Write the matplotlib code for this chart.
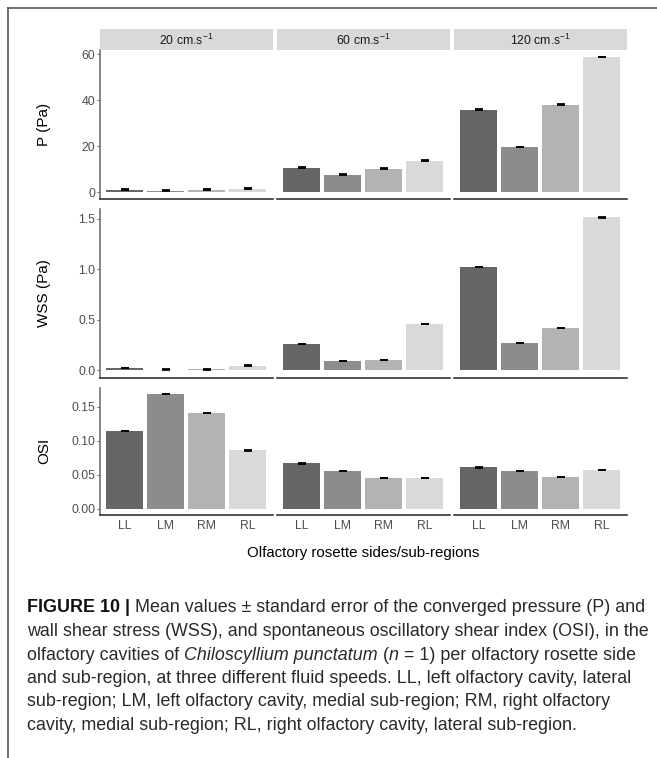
import numpy as np
import matplotlib
matplotlib.use("Agg")
from matplotlib import pyplot as plt
from matplotlib.lines import Line2D

plt.rcParams['font.family'] = ['Liberation Sans', 'DejaVu Sans']
plt.rcParams['mathtext.fontset'] = 'custom'
plt.rcParams['mathtext.rm'] = 'Liberation Sans'
plt.rcParams['mathtext.it'] = 'Liberation Sans:italic'

# data
regions = ["LL", "LM", "RM", "RL"]
speeds = [r"20 cm.s$^{-1}$", r"60 cm.s$^{-1}$", r"120 cm.s$^{-1}$"]
row_titles = ["P (Pa)", "WSS (Pa)", "OSI"]

p_mean = [[1.1, 0.7, 1.1, 1.6],
          [10.7, 7.7, 10.3, 13.8],
          [35.9, 19.8, 38.0, 58.8]]
p_se = [[0.12, 0.1, 0.15, 0.15],
        [0.2, 0.15, 0.2, 0.2],
        [0.15, 0.1, 0.2, 0.15]]
wss_mean = [[0.022, 0.008, 0.01, 0.045],
            [0.26, 0.092, 0.102, 0.457],
            [1.02, 0.27, 0.418, 1.513]]
wss_se = [[0.004, 0.002, 0.002, 0.004],
          [0.004, 0.003, 0.003, 0.004],
          [0.004, 0.004, 0.004, 0.005]]
osi_mean = [[0.1145, 0.1690, 0.1410, 0.0862],
            [0.0668, 0.0555, 0.0452, 0.0450],
            [0.0610, 0.0553, 0.0467, 0.0570]]
osi_se = [[0.0004, 0.0004, 0.0004, 0.0004],
          [0.0004, 0.0004, 0.0004, 0.0004],
          [0.0004, 0.0004, 0.0004, 0.0004]]
y_ticks = [[0, 20, 40, 60], [0.0, 0.5, 1.0, 1.5], [0.00, 0.05, 0.10, 0.15]]
y_ticklabels = [["0", "20", "40", "60"], ["0.0", "0.5", "1.0", "1.5"],
                ["0.00", "0.05", "0.10", "0.15"]]

means = [p_mean, wss_mean, osi_mean]
ses = [p_se, wss_se, osi_se]
bar_colors = ["#666666", "#8c8c8c", "#b3b3b3", "#d9d9d9"]

W, H = 657, 758
fig = plt.figure(figsize=(W / 100, H / 100), dpi=100)


def px_axes(x0, y0, x1, y1):
    # pixel box (top-left origin) -> figure axes
    return fig.add_axes([x0 / W, 1 - y1 / H, (x1 - x0) / W, (y1 - y0) / H])


col_x = [(100, 272.5), (277, 449.5), (454, 626.6)]
row_y = [(50, 199), (209, 378), (388, 514.5)]
strip_y = (29, 50)

xpos = np.arange(len(regions))
for r in range(3):
    top = max(max(m + s for m, s in zip(mm, ss)) for mm, ss in zip(means[r], ses[r]))
    for c in range(3):
        ax = px_axes(col_x[c][0], row_y[r][0], col_x[c][1], row_y[r][1])
        vals = np.array(means[r][c])
        err = np.array(ses[r][c])
        ax.bar(xpos, vals, width=0.9, color=bar_colors, zorder=2)
        ax.vlines(xpos, vals - err, vals + err, color="black", lw=1.0, zorder=3)
        ax.hlines(vals + err, xpos - 0.1, xpos + 0.1, color="black", lw=1.3, zorder=3)
        ax.hlines(vals - err, xpos - 0.1, xpos + 0.1, color="black", lw=1.3, zorder=3)
        ax.set_xlim(-0.6, 3.6)
        ax.set_ylim(-0.05 * top, 1.05 * top)
        for s in ["top", "right"]:
            ax.spines[s].set_visible(False)
        ax.spines["bottom"].set_color("#222222")
        ax.spines["bottom"].set_linewidth(1.1)
        ax.spines["left"].set_color("#666666")
        ax.spines["left"].set_linewidth(1.1)
        ax.set_yticks(y_ticks[r])
        ax.set_yticklabels(y_ticklabels[r])
        ax.tick_params(axis="y", length=2, width=0.6, color="#555555",
                       labelsize=8.8, labelcolor="#4d4d4d", pad=1.5)
        ax.set_xticks(xpos)
        if r == 2:
            ax.set_xticklabels(regions)
            ax.tick_params(axis="x", length=0, labelsize=8.8,
                           labelcolor="#4d4d4d", pad=4)
        else:
            ax.tick_params(axis="x", length=0, labelbottom=False)
        if c > 0:
            ax.spines["left"].set_visible(False)
            ax.tick_params(axis="y", left=False, labelleft=False)
        else:
            ax.set_ylabel(row_titles[r], fontsize=11)
            ax.yaxis.set_label_coords((51 - col_x[0][0]) / (col_x[0][1] - col_x[0][0]), 0.5)
        if r == 0:
            sax = px_axes(col_x[c][0], strip_y[0], col_x[c][1], strip_y[1])
            sax.set_facecolor("#d9d9d9")
            sax.set_xticks([])
            sax.set_yticks([])
            for s in sax.spines.values():
                s.set_visible(False)
            sax.text(0.5, 0.45, speeds[c], ha="center", va="center",
                     fontsize=8.8, color="#1a1a1a", transform=sax.transAxes)

fig.text(363 / W, 1 - 553 / H, "Olfactory rosette sides/sub-regions",
         ha="center", va="center", fontsize=10.8)

# frame lines of the page
fig.add_artist(Line2D([8 / W, 8 / W], [0, 1 - 8 / H], color="#555555", lw=1.2))
fig.add_artist(Line2D([8 / W, 1], [1 - 8 / H, 1 - 8 / H], color="#555555", lw=1.2))

# caption, drawn run by run
caption = [
    [("FIGURE 10 | ", "bold", "normal"),
     ("Mean values \u00b1 standard error of the converged pressure (P) and", "normal", "normal")],
    [("wall shear stress (WSS), and spontaneous oscillatory shear index (OSI), in the", "normal", "normal")],
    [("olfactory cavities of ", "normal", "normal"), ("Chiloscyllium punctatum", "normal", "italic"),
     (" (", "normal", "normal"), ("n", "normal", "italic"),
     (" = 1) per olfactory rosette side", "normal", "normal")],
    [("and sub-region, at three different fluid speeds. LL, left olfactory cavity, lateral", "normal", "normal")],
    [("sub-region; LM, left olfactory cavity, medial sub-region; RM, right olfactory", "normal", "normal")],
    [("cavity, medial sub-region; RL, right olfactory cavity, lateral sub-region.", "normal", "normal")],
]
renderer = fig.canvas.get_renderer()


def draw_line(x, y, runs, size, draw=True):
    total = 0
    for s, weight, style in runs:
        t = fig.text((x + total) / W, 1 - y / H, s, fontsize=size, fontweight=weight,
                     fontstyle=style, va="center", ha="left",
                     color="#111111" if weight == "bold" else "#2a2a2a")
        total += t.get_window_extent(renderer).width
        if not draw:
            t.remove()
    return total


base = 12
w0 = draw_line(27, 0, caption[0], base, draw=False)
cap_size = base * 618 / w0
cap_y = [608, 631.5, 655, 678.5, 702, 725.5]
for line, y in zip(caption, cap_y):
    draw_line(27, y, line, cap_size)

fig.savefig("out.png", dpi=100)
